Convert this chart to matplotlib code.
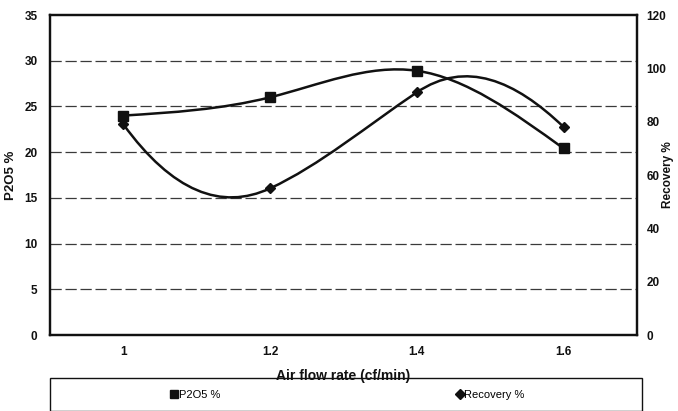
import numpy as np
import matplotlib
matplotlib.use("Agg")
import matplotlib.pyplot as plt
from matplotlib.path import Path
from matplotlib.patches import PathPatch, Rectangle
from matplotlib.lines import Line2D

# Data
air_flow = [1.0, 1.2, 1.4, 1.6]
p2o5 = [24.0, 26.0, 28.9, 20.4]
recovery = [79.0, 55.0, 91.0, 78.0]

left_ticks = [0, 5, 10, 15, 20, 25, 30, 35]
right_ticks = [0, 20, 40, 60, 80, 100, 120]
x_ticks = [1.0, 1.2, 1.4, 1.6]
x_tick_labels = ["1", "1.2", "1.4", "1.6"]

plt.rcParams["font.family"] = ["Liberation Sans", "DejaVu Sans"]

INK = "#111111"


def spline_slopes(x, y):
    """Knot slopes of a natural cubic spline through the points."""
    x = np.asarray(x, float)
    y = np.asarray(y, float)
    n = len(x)
    h = np.diff(x)
    A = np.zeros((n, n))
    b = np.zeros(n)
    A[0, 0] = A[-1, -1] = 1.0
    for i in range(1, n - 1):
        A[i, i - 1] = h[i - 1]
        A[i, i] = 2 * (h[i - 1] + h[i])
        A[i, i + 1] = h[i]
        b[i] = 6 * ((y[i + 1] - y[i]) / h[i] - (y[i] - y[i - 1]) / h[i - 1])
    M = np.linalg.solve(A, b)
    m = np.zeros(n)
    for i in range(n - 1):
        m[i] = (y[i + 1] - y[i]) / h[i] - h[i] * (2 * M[i] + M[i + 1]) / 6
    m[-1] = (y[-1] - y[-2]) / h[-1] + h[-1] * (M[-2] + 2 * M[-1]) / 6
    return m


def smooth_path(x, y, tension=1.0):
    """Bezier path through the points (chart-style smoothed line)."""
    m = spline_slopes(x, y) * tension
    verts = [(x[0], y[0])]
    codes = [Path.MOVETO]
    for i in range(len(x) - 1):
        h = x[i + 1] - x[i]
        verts += [(x[i] + h / 3, y[i] + m[i] * h / 3),
                  (x[i + 1] - h / 3, y[i + 1] - m[i + 1] * h / 3),
                  (x[i + 1], y[i + 1])]
        codes += [Path.CURVE4] * 3
    return Path(verts, codes)


fig = plt.figure(figsize=(6.78, 4.11), dpi=100)
ax = fig.add_axes([50 / 678, 1 - 335 / 411, 587 / 678, 320 / 411])
ax2 = ax.twinx()

ax.set_xlim(0.9, 1.7)
ax.set_ylim(0, 35)
ax2.set_ylim(0, 120)

# dashed horizontal grid at the left-axis ticks
for v in left_ticks[1:-1]:
    ax.axhline(v, color="#3a3a3a", lw=0.9, dashes=(9, 3), zorder=0)

ax.add_patch(PathPatch(smooth_path(air_flow, p2o5, 1.0), fill=False,
                       edgecolor=INK, lw=1.8, zorder=3))
ax.plot(air_flow, p2o5, ls="none", marker="s", ms=7, color=INK, zorder=4)

ax2.add_patch(PathPatch(smooth_path(air_flow, recovery, 1.75), fill=False,
                        edgecolor=INK, lw=1.8, zorder=3))
ax2.plot(air_flow, recovery, ls="none", marker="D", ms=5.5, color=INK, zorder=4)

ax.set_xticks(x_ticks)
ax.set_xticklabels(x_tick_labels)
ax.set_yticks(left_ticks)
ax2.set_yticks(right_ticks)

for a in (ax, ax2):
    a.tick_params(length=0, labelsize=8.5, colors=INK)
    for lab in a.get_xticklabels() + a.get_yticklabels():
        lab.set_fontweight("bold")
    for sp in a.spines.values():
        sp.set_linewidth(1.6)
        sp.set_color(INK)
ax.tick_params(axis="y", pad=9)
ax.tick_params(axis="x", pad=8)
ax2.tick_params(axis="y", pad=7)

ax.set_xlabel("Air flow rate (cf/min)", fontsize=10, fontweight="bold",
              color=INK, labelpad=8)
ax.set_ylabel("P2O5 %", fontsize=9.5, fontweight="bold", color=INK, labelpad=5)
ax2.set_ylabel("Recovery %", fontsize=8.5, fontweight="bold", color=INK,
               rotation=90, va="center", ha="center")
ax2.yaxis.set_label_coords((668 - 50) / 587, 0.5)

# legend box under the chart
fig.patches.append(Rectangle((50 / 678, 1 - 411 / 411), 592 / 678, 33 / 411,
                             transform=fig.transFigure, fill=False,
                             edgecolor=INK, lw=1.0))
h1 = Line2D([], [], ls="none", marker="s", ms=6, color=INK)
h2 = Line2D([], [], ls="none", marker="D", ms=5, color=INK)
for handle, label, cx in [(h1, "P2O5 %", 195), (h2, "Recovery %", 490)]:
    fig.legend([handle], [label], loc="center", frameon=False,
               bbox_to_anchor=(cx / 678, 1 - 395 / 411), fontsize=8,
               handletextpad=0.0, handlelength=0.8, borderpad=0)

fig.savefig("out.png", dpi=100)
